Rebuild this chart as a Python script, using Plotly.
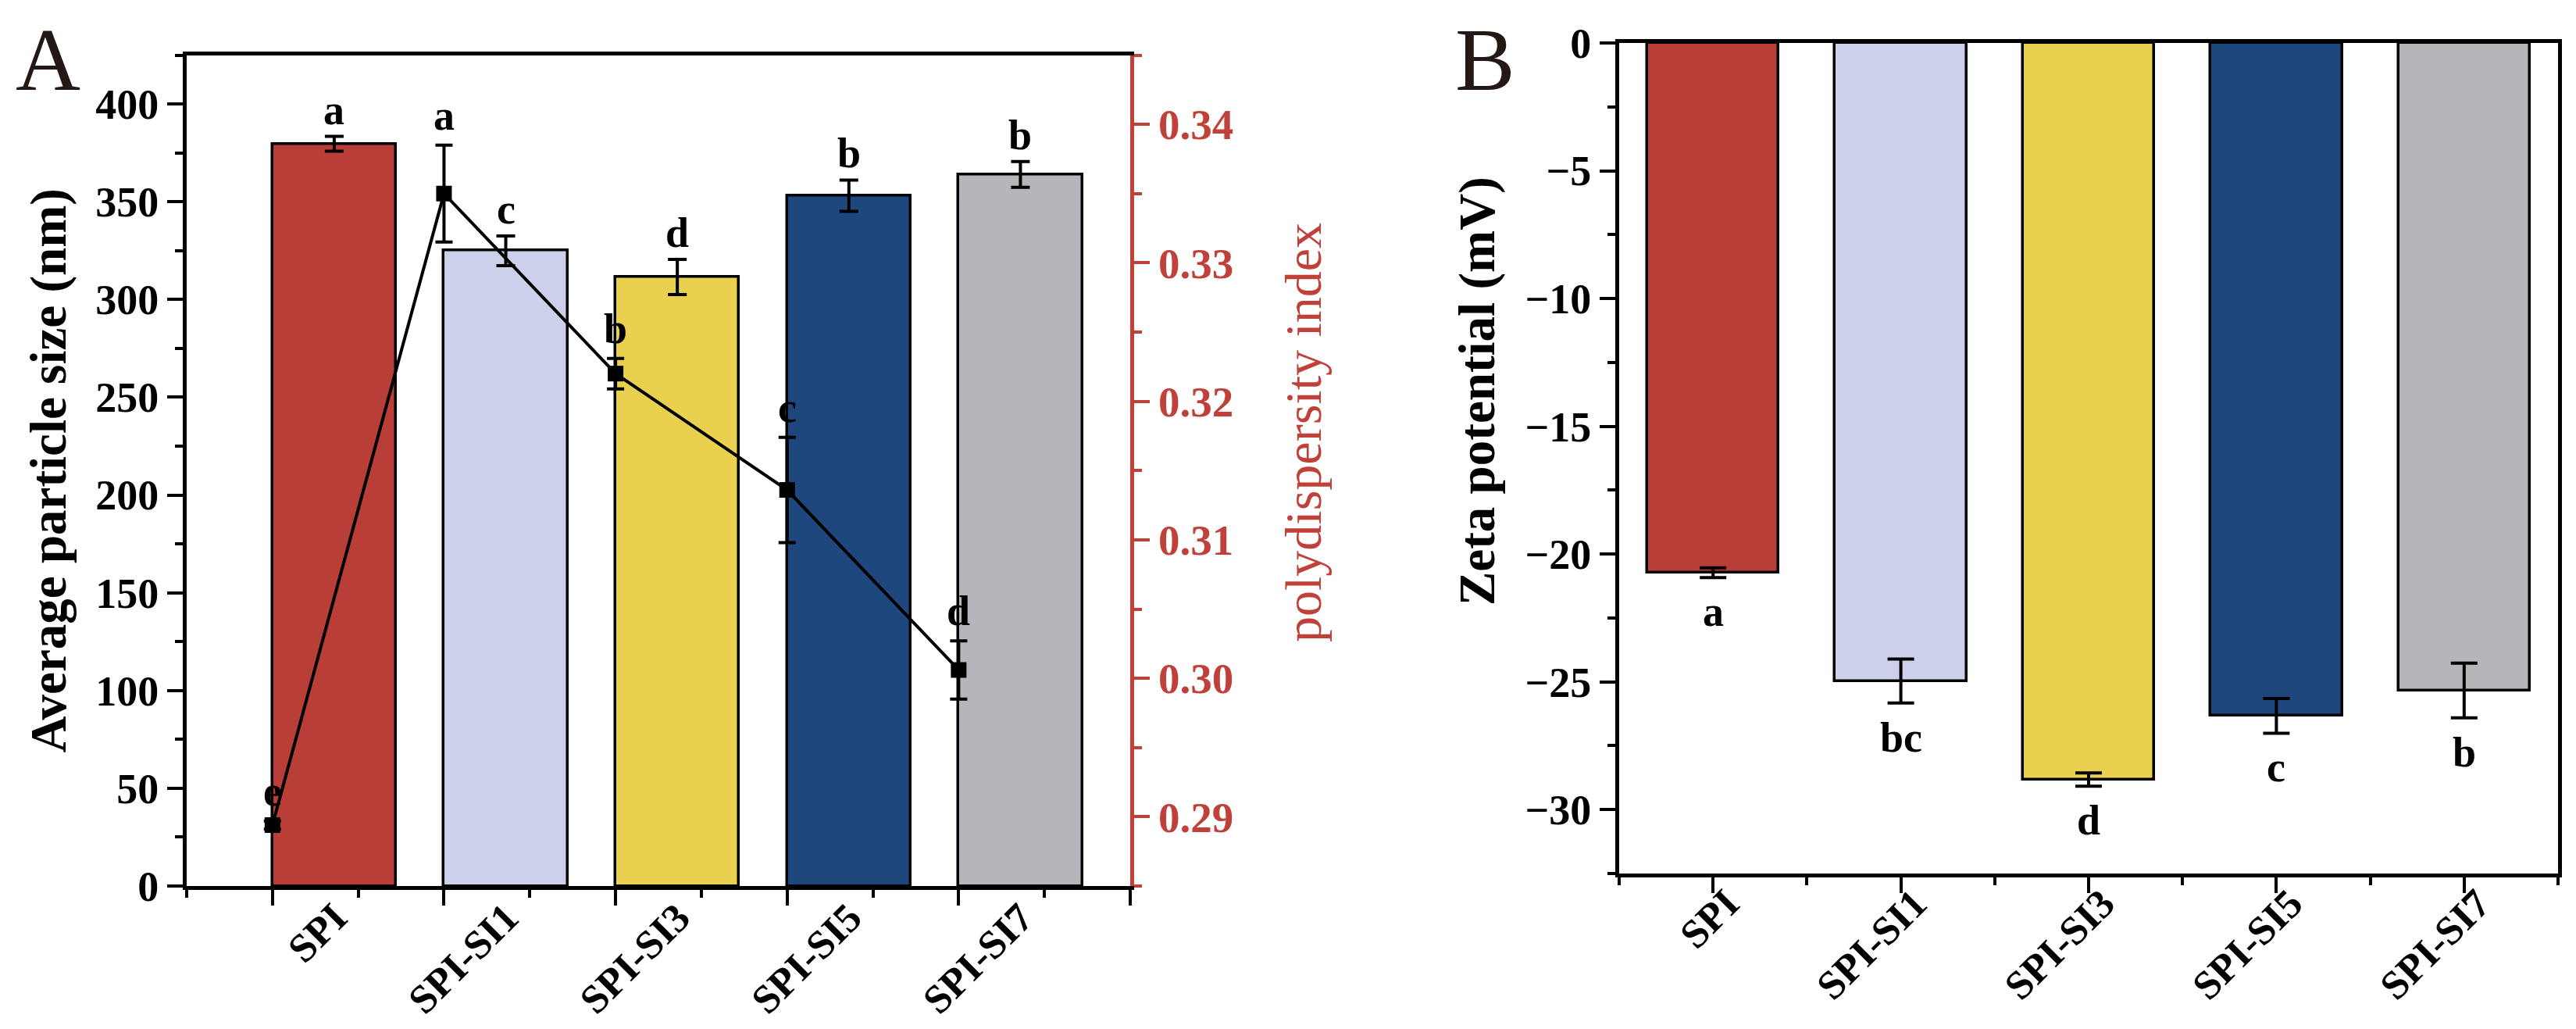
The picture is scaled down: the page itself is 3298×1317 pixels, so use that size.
import plotly.graph_objects as go

# data
samples = ["SPI", "SPI-SI1", "SPI-SI3", "SPI-SI5", "SPI-SI7"]
size_nm = [379.6, 324.9, 311.5, 353.1, 364.0]
size_err = [3.8, 7.6, 9.0, 8.0, 6.6]
size_letters = ["a", "c", "d", "b", "b"]
pdi = [0.2894, 0.3350, 0.3220, 0.3136, 0.3006]
pdi_err = [0.0003, 0.0035, 0.0011, 0.0038, 0.0021]
pdi_letters = ["e", "a", "b", "c", "d"]
zeta = [-20.73, -24.97, -28.82, -26.33, -25.34]
zeta_err = [0.19, 0.86, 0.26, 0.68, 1.07]
zeta_letters = ["a", "bc", "d", "c", "b"]
bar_colors = ["#B83E37", "#CDD0EA", "#E9D04E", "#1D477D", "#B5B6BA"]

RED = "#C0403A"
FONT = "Liberation Serif"
W, H = 3298, 1317

idx = list(range(len(samples)))
bar_x = [i + 0.36 for i in idx]  # columns sit right of the tick in panel A

fig = go.Figure()

# panel A: particle size columns
fig.add_trace(go.Bar(
    x=bar_x, y=size_nm, width=0.72, xaxis="x", yaxis="y",
    marker=dict(color=bar_colors, line=dict(color="black", width=3.5)),
    error_y=dict(type="data", array=size_err, color="black", thickness=4, width=12),
    showlegend=False))

# panel A: PDI line on right axis
fig.add_trace(go.Scatter(
    x=idx, y=pdi, xaxis="x", yaxis="y2", mode="lines+markers",
    line=dict(color="black", width=4),
    marker=dict(symbol="square", size=20, color="black"),
    error_y=dict(type="data", array=pdi_err, color="black", thickness=4, width=11),
    showlegend=False))

# panel B: zeta potential
fig.add_trace(go.Bar(
    x=idx, y=zeta, width=0.70, xaxis="x2", yaxis="y3",
    marker=dict(color=bar_colors, line=dict(color="black", width=3.5)),
    error_y=dict(type="data", array=zeta_err, color="black", thickness=4, width=17),
    showlegend=False))

letter_font = dict(family=FONT, size=54, color="black", weight="bold")
title_font = dict(family=FONT, size=65, color="black", weight="bold")
ann = []
for i in idx:
    ann.append(dict(x=bar_x[i], y=size_nm[i] + size_err[i], xref="x", yref="y",
                    text=size_letters[i], showarrow=False, yanchor="bottom",
                    yshift=2, font=letter_font))
    ann.append(dict(x=i, y=pdi[i] + pdi_err[i], xref="x", yref="y2",
                    text=pdi_letters[i], showarrow=False, yanchor="bottom",
                    yshift=6, font=letter_font))
    ann.append(dict(x=i, y=zeta[i] - zeta_err[i], xref="x2", yref="y3",
                    text=zeta_letters[i], showarrow=False, yanchor="top",
                    yshift=-12, font=letter_font))

ann.append(dict(x=0.003, y=0.998, xref="paper", yref="paper", text="A",
                showarrow=False, xanchor="left", yanchor="top",
                font=dict(family=FONT, size=115, color="#231815")))
ann.append(dict(x=0.5618, y=0.998, xref="paper", yref="paper", text="B",
                showarrow=False, xanchor="left", yanchor="top",
                font=dict(family=FONT, size=115, color="#231815")))
ann.append(dict(x=1660 / W, y=1 - 546 / H, xref="paper", yref="paper",
                text="polydispersity index", textangle=-90, showarrow=False,
                font=dict(family=FONT, size=66, color=RED)))
ann.append(dict(x=1883 / W, y=1 - 493 / H, xref="paper", yref="paper",
                text="Zeta potential (mV)", textangle=-90, showarrow=False,
                font=title_font))

tick_font = dict(family=FONT, size=54, color="black", weight="bold")
xtick_font = dict(family=FONT, size=52, color="black", weight="bold")

fig.update_layout(
    width=W, height=H,
    margin=dict(l=0, r=0, t=0, b=0),
    template="none",
    paper_bgcolor="white", plot_bgcolor="white",
    bargap=0,
    annotations=ann,
    xaxis=dict(
        domain=[231 / W, 1439 / W], range=[-0.5, 5.0], anchor="y",
        tickmode="array", tickvals=idx + [5], ticktext=samples + [""],
        tickangle=-45, ticklabelshift=80, ticklabelstandoff=-36,
        ticks="outside", ticklen=20, tickwidth=4, tickcolor="black",
        minor=dict(tickmode="array", tickvals=[i - 0.5 for i in idx] + [4.5],
                   ticks="outside", ticklen=10, tickwidth=4, tickcolor="black"),
        showline=True, linecolor="black", linewidth=5, mirror=True,
        showgrid=False, zeroline=False, tickfont=xtick_font),
    yaxis=dict(
        domain=[1 - 1126 / H, 1 - 62.5 / H], range=[0, 425], anchor="x",
        tickmode="linear", tick0=0, dtick=50,
        ticks="outside", ticklen=20, tickwidth=4, tickcolor="black",
        minor=dict(tickmode="linear", tick0=0, dtick=25, ticks="outside",
                   ticklen=10, tickwidth=4, tickcolor="black"),
        showline=True, linecolor="black", linewidth=5,
        showgrid=False, zeroline=False, tickfont=tick_font,
        title=dict(text="Average particle size (nm)", font=title_font, standoff=18)),
    yaxis2=dict(
        overlaying="y", side="right", anchor="x", range=[0.285, 0.345],
        tickmode="linear", tick0=0.29, dtick=0.01, tickformat=".2f",
        ticks="outside", ticklen=20, tickwidth=4, tickcolor=RED,
        minor=dict(tickmode="linear", tick0=0.285, dtick=0.005, ticks="outside",
                   ticklen=10, tickwidth=4, tickcolor=RED),
        showline=True, linecolor=RED, linewidth=5,
        showgrid=False, zeroline=False,
        tickfont=dict(family=FONT, size=55, color=RED, weight="bold")),
    xaxis2=dict(
        domain=[2065 / W, 3267 / W], range=[-0.5, 4.5], anchor="y3",
        tickmode="array", tickvals=idx, ticktext=samples,
        tickangle=-45, ticklabelshift=18, ticklabelstandoff=-38,
        ticks="outside", ticklen=20, tickwidth=4, tickcolor="black",
        minor=dict(tickmode="array", tickvals=[i - 0.5 for i in idx] + [4.5],
                   ticks="outside", ticklen=10, tickwidth=4, tickcolor="black"),
        showline=True, linecolor="black", linewidth=5, mirror=True,
        showgrid=False, zeroline=False, tickfont=xtick_font),
    yaxis3=dict(
        domain=[1 - 1110 / H, 1 - 47 / H], range=[-32.5, 0], anchor="x2",
        tickmode="linear", tick0=0, dtick=5,
        ticks="outside", ticklen=20, tickwidth=4, tickcolor="black",
        minor=dict(tickmode="linear", tick0=0, dtick=2.5, ticks="outside",
                   ticklen=10, tickwidth=4, tickcolor="black"),
        showline=True, linecolor="black", linewidth=5, mirror=True,
        showgrid=False, zeroline=False, tickfont=tick_font),
)

fig.write_html("out.html")
